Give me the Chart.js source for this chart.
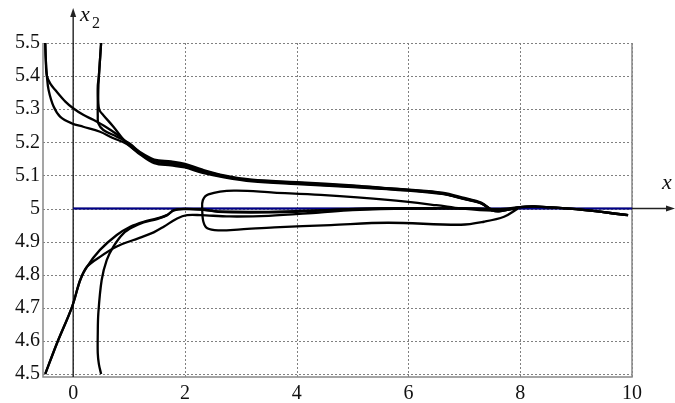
<!DOCTYPE html>
<html><head><meta charset="utf-8">
<script src="https://cdn.jsdelivr.net/npm/chart.js@4"></script>
<style>html,body{margin:0;padding:0;background:#fff}#wrap{width:675px;height:403px}</style>
</head><body><div id="wrap"><canvas id="c" width="675" height="403"></canvas></div>
<script>
const xTicks = [0, 2, 4, 6, 8, 10];
const yTicks = [4.5, 4.6, 4.7, 4.8, 4.9, 5.0, 5.1, 5.2, 5.3, 5.4, 5.5];

const upper1 = [[-0.50,5.50],[-0.49,5.45],[-0.47,5.40],[-0.40,5.375],[-0.32,5.358],[-0.14,5.323],[0.00,5.303],[0.18,5.283],[0.36,5.268],[0.60,5.245],[0.80,5.222],[0.96,5.200],[1.20,5.170],[1.45,5.148],[1.75,5.142],[2.00,5.135],[2.30,5.118],[2.70,5.100],[3.20,5.087],[4.00,5.080],[5.00,5.070],[5.50,5.063],[6.00,5.057],[6.60,5.048],[7.00,5.032],[7.30,5.018],[7.50,4.995],[7.65,4.992],[8.00,5.004],[8.30,5.006],[9.00,4.998],[9.93,4.980]];
const upper2 = [[-0.50,5.50],[-0.49,5.45],[-0.47,5.40],[-0.44,5.358],[-0.35,5.308],[-0.23,5.277],[-0.02,5.257],[0.18,5.247],[0.48,5.232],[0.70,5.214],[0.96,5.195],[1.20,5.163],[1.45,5.137],[1.75,5.130],[2.00,5.124],[2.30,5.108],[2.70,5.094],[3.20,5.082],[4.00,5.074],[5.00,5.065],[6.00,5.054],[6.60,5.044],[7.00,5.028],[7.30,5.015],[7.50,4.994],[7.65,4.992],[8.00,5.004],[8.30,5.006],[9.00,4.998],[9.93,4.980]];
const upper3 = [[0.50,5.50],[0.48,5.45],[0.46,5.40],[0.44,5.37],[0.44,5.32],[0.44,5.28],[0.45,5.257],[0.54,5.237],[0.78,5.217],[1.02,5.195],[1.20,5.168],[1.45,5.145],[1.75,5.138],[2.00,5.132],[2.30,5.115],[2.70,5.098],[3.20,5.085],[4.00,5.078],[5.00,5.068],[6.00,5.056],[6.60,5.046],[7.00,5.030],[7.30,5.016],[7.50,4.994]];
const upper4 = [[0.50,5.50],[0.48,5.45],[0.46,5.40],[0.45,5.36],[0.45,5.32],[0.47,5.297],[0.54,5.282],[0.72,5.247],[0.96,5.197],[1.20,5.165],[1.45,5.140],[1.75,5.134],[2.00,5.128],[2.30,5.112],[2.70,5.096],[3.20,5.084],[4.00,5.076],[5.00,5.066],[6.00,5.055],[6.60,5.045],[7.00,5.029],[7.30,5.016],[7.50,4.994]];
const lower1 = [[-0.50,4.50],[-0.29,4.593],[-0.02,4.703],[0.126,4.784],[0.246,4.824],[0.48,4.854],[0.78,4.885],[1.08,4.905],[1.20,4.912],[1.44,4.928],[1.62,4.945],[1.86,4.970],[2.04,4.980],[2.28,4.980],[2.80,4.976],[3.50,4.978],[4.40,4.988],[5.00,4.995],[6.00,5.000],[7.00,5.000],[7.60,4.998],[8.00,5.004],[8.30,5.006],[9.00,4.998],[9.93,4.980]];
const lower2 = [[-0.50,4.50],[-0.29,4.593],[-0.02,4.703],[0.126,4.784],[0.246,4.824],[0.48,4.875],[0.78,4.920],[1.02,4.945],[1.26,4.960],[1.50,4.970],[1.68,4.980],[1.80,4.995],[1.98,4.998],[2.30,4.997],[2.60,4.990],[3.20,4.988],[4.00,4.990],[4.60,4.995],[5.50,5.000],[7.00,5.000],[7.60,4.998]];
const lower3 = [[0.50,4.50],[0.46,4.53],[0.44,4.563],[0.44,4.62],[0.45,4.683],[0.51,4.784],[0.60,4.844],[0.72,4.885],[0.90,4.925],[1.08,4.945],[1.26,4.958],[1.50,4.968],[1.68,4.980],[1.80,4.994],[1.98,4.999],[2.30,4.997],[2.60,4.991],[3.50,4.990],[4.60,4.996],[5.50,5.000],[6.50,5.000]];
const loop = [[7.96,5.000],[7.71,4.975],[7.35,4.960],[6.94,4.951],[5.63,4.957],[4.61,4.950],[3.60,4.943],[3.00,4.937],[2.60,4.934],[2.40,4.940],[2.33,4.960],[2.31,4.995],[2.32,5.025],[2.42,5.043],[2.875,5.054],[3.59,5.048],[4.43,5.041],[5.63,5.026],[6.50,5.010],[6.94,5.000],[7.50,4.994],[7.96,5.000]];
const equilibrium = [[0, 5], [10, 5]];

const curves = [upper1, upper2, upper3, upper4, lower1, lower2, lower3, loop];
const toPts = a => a.map(([x, y]) => ({x, y}));
const datasets = curves.map(c => ({
  data: toPts(c), borderColor: '#000', borderWidth: 2.3, pointRadius: 0,
  tension: 0.35, fill: false, showLine: true
}));
datasets.push({data: toPts(equilibrium), borderColor: '#00008b', borderWidth: 2, pointRadius: 0, tension: 0, showLine: true});

const serif = '"Liberation Serif", "Times New Roman", Times, serif';

const axesPlugin = {
  id: 'axesDecor',
  beforeDatasetsDraw(chart) {
    const {ctx, chartArea: a, scales: {x, y}} = chart;
    ctx.save();
    ctx.strokeStyle = '#808080';
    ctx.lineWidth = 1;
    ctx.setLineDash([2, 2]);
    xTicks.forEach(v => {
      const px = Math.round(x.getPixelForValue(v)) + 0.5;
      ctx.beginPath(); ctx.moveTo(px, a.top); ctx.lineTo(px, a.bottom); ctx.stroke();
    });
    yTicks.forEach(v => {
      const py = Math.round(y.getPixelForValue(v)) + 0.5;
      ctx.beginPath(); ctx.moveTo(a.left, py); ctx.lineTo(a.right, py); ctx.stroke();
    });
    ctx.setLineDash([]);
    ctx.strokeStyle = '#888';
    ctx.lineWidth = 1.5;
    ctx.beginPath();
    ctx.moveTo(a.left, a.top); ctx.lineTo(a.left, a.bottom);
    ctx.lineTo(a.right, a.bottom); ctx.lineTo(a.right, a.top);
    ctx.stroke();
    const x0 = x.getPixelForValue(0), y5 = y.getPixelForValue(5);
    ctx.strokeStyle = '#222'; ctx.fillStyle = '#222'; ctx.lineWidth = 1.4;
    ctx.beginPath(); ctx.moveTo(x0, a.bottom); ctx.lineTo(x0, 14); ctx.stroke();
    ctx.beginPath(); ctx.moveTo(x0, 8); ctx.lineTo(x0 - 3, 17); ctx.lineTo(x0 + 3, 17); ctx.closePath(); ctx.fill();
    ctx.beginPath(); ctx.moveTo(x0, y5); ctx.lineTo(668, y5); ctx.stroke();
    ctx.beginPath(); ctx.moveTo(675, y5); ctx.lineTo(666, y5 - 3); ctx.lineTo(666, y5 + 3); ctx.closePath(); ctx.fill();
    ctx.restore();
  },
  afterDraw(chart) {
    const {ctx} = chart;
    ctx.save();
    ctx.fillStyle = '#111';
    ctx.textBaseline = 'alphabetic';
    ctx.font = 'italic 22px ' + serif;
    ctx.fillText('x', 80, 21);
    ctx.fillText('x', 662, 189);
    ctx.font = '16px ' + serif;
    ctx.fillText('2', 92, 28);
    ctx.restore();
  }
};

new Chart(document.getElementById('c'), {
  type: 'scatter',
  data: {datasets},
  options: {
    responsive: false, animation: false, devicePixelRatio: 1,
    layout: {padding: {left: 0, top: 43, right: 43, bottom: 0}},
    plugins: {legend: {display: false}, tooltip: {enabled: false}},
    scales: {
      x: {
        type: 'linear', min: -0.54, max: 10,
        afterBuildTicks: s => { s.ticks = xTicks.map(v => ({value: v})); },
        afterFit: s => { s.height = 26; },
        grid: {display: false, drawTicks: false, tickLength: 0},
        border: {display: false},
        ticks: {font: {family: serif, size: 20}, color: '#111', padding: 5, maxRotation: 0, autoSkip: false}
      },
      y: {
        type: 'linear', min: 4.491, max: 5.5,
        afterBuildTicks: s => { s.ticks = yTicks.map(v => ({value: v})); },
        afterFit: s => { s.width = 43; },
        grid: {display: false, drawTicks: false, tickLength: 0},
        border: {display: false},
        ticks: {font: {family: serif, size: 20}, color: '#111', padding: 3, autoSkip: false,
          callback: v => (Math.abs(v - 5) < 1e-9 ? '5' : v.toFixed(1))}
      }
    }
  },
  plugins: [axesPlugin]
});
</script>
</body></html>
